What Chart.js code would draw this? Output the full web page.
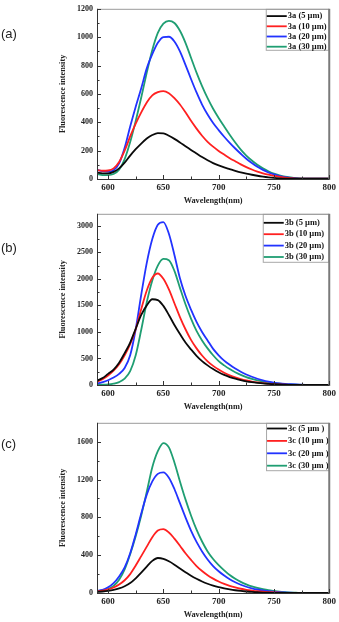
<!DOCTYPE html>
<html>
<head>
<meta charset="utf-8">
<title>Fluorescence spectra</title>
<script src="https://cdn.jsdelivr.net/npm/chart.js@4.4.1/dist/chart.umd.min.js"></script>
<style>
  body { margin: 0; background: #fff; }
  #page { position: relative; width: 339px; height: 622px; overflow: hidden; }
  .panel { position: absolute; left: 0; width: 339px; }
  .tag { position: absolute; left: 1px; font: 13px "Liberation Sans", Arial, sans-serif; color: #222; line-height: 15px; }
</style>
</head>
<body>
<div id="page">
  <div class="panel" style="top:0;height:208px"><canvas id="chartA"></canvas></div>
  <div class="panel" style="top:205px;height:210px"><canvas id="chartB"></canvas></div>
  <div class="panel" style="top:414px;height:208px"><canvas id="chartC"></canvas></div>
  <div class="tag" style="top:26px">(a)</div>
  <div class="tag" style="top:240px">(b)</div>
  <div class="tag" style="top:436px">(c)</div>
</div>
<script>
// emission wavelengths (nm), one reading every 5 nm
const wavelengths = [590, 595, 600, 605, 610, 615, 620, 625, 630, 635,
  640, 645, 650, 655, 660, 665, 670, 675, 680, 685,
  690, 695, 700, 705, 710, 715, 720, 725, 730, 735,
  740, 745, 750, 755, 760, 765, 770, 775, 780, 785,
  790, 795, 800];

const xTicks = [600, 650, 700, 750, 800];
const yTicksA = [0, 200, 400, 600, 800, 1000, 1200];
const yTicksB = [0, 500, 1000, 1500, 2000, 2500, 3000];
const yTicksC = [0, 400, 800, 1200, 1600];

const labelsA = ['3a (5 µm)', '3a (10 µm)', '3a (20 µm)', '3a (30 µm)'];
const labelsB = ['3b (5 µm)', '3b (10 µm)', '3b (20 µm)', '3b (30 µm)'];
const labelsC = ['3c (5 µm )', '3c (10 µm )', '3c (20 µm )', '3c (30 µm )'];

// 3a
const a5 = [45, 40, 40, 50, 75, 115, 165, 210, 250, 285,
  310, 324, 322, 305, 283, 258, 231, 205, 180, 155,
  132, 112, 96, 82, 70, 58, 47, 38, 30, 23,
  17, 12, 8, 5, 3, 2, 2, 2, 2, 2, 2, 2, 2];
const a10 = [62, 58, 60, 75, 120, 200, 300, 390, 470, 540,
  590, 612, 620, 605, 570, 525, 470, 410, 355, 305,
  262, 228, 198, 172, 147, 125, 103, 84, 67, 52,
  40, 30, 22, 15, 10, 6, 3, 2, 2, 2, 2, 2, 2];
const a20 = [65, 55, 52, 62, 110, 220, 370, 510, 640, 780,
  880, 960, 1000, 1003, 970, 900, 805, 705, 610, 525,
  455, 395, 345, 298, 255, 215, 178, 143, 113, 86,
  64, 46, 32, 21, 13, 8, 4, 2, 2, 2, 2, 2, 2];
const a30 = [35, 28, 28, 35, 65, 140, 260, 410, 575, 750,
  910, 1030, 1095, 1115, 1100, 1045, 960, 855, 750, 655,
  570, 495, 430, 370, 312, 257, 207, 165, 130, 100,
  75, 55, 38, 26, 17, 11, 6, 3, 2, 2, 2, 2, 2];

// 3b
const b5 = [80, 130, 210, 290, 420, 600, 800, 1060, 1320, 1500,
  1615, 1600, 1490, 1320, 1130, 960, 800, 670, 550, 450,
  370, 300, 240, 190, 150, 118, 92, 70, 53, 40,
  29, 21, 14, 9, 5, 3, 1, 0, 0, 0, 0, 0, 0];
const b10 = [60, 110, 180, 270, 390, 560, 770, 1050, 1430, 1780,
  2020, 2100, 2000, 1800, 1540, 1280, 1050, 850, 690, 555,
  445, 360, 290, 230, 182, 143, 112, 86, 65, 49,
  36, 26, 18, 12, 7, 4, 2, 1, 0, 0, 0, 0, 0];
const b20 = [25, 55, 90, 140, 210, 320, 560, 1050, 1700, 2300,
  2750, 3020, 3070, 2850, 2450, 2010, 1680, 1420, 1190, 1000,
  840, 680, 560, 460, 380, 310, 250, 198, 155, 118,
  88, 64, 45, 31, 21, 14, 9, 5, 3, 1, 0, 0, 0];
const b30 = [3, 5, 10, 25, 55, 120, 260, 560, 1040, 1560,
  1970, 2250, 2375, 2350, 2150, 1830, 1520, 1250, 1020, 840,
  690, 560, 450, 370, 300, 240, 192, 150, 116, 88,
  66, 48, 35, 25, 17, 11, 7, 4, 2, 1, 0, 0, 0];

// 3c
const c5 = [12, 16, 22, 32, 48, 72, 105, 155, 215, 280,
  340, 370, 362, 335, 300, 260, 220, 182, 150, 122,
  98, 78, 62, 49, 38, 29, 22, 16, 11, 8,
  5, 3, 2, 1, 0, 0, 0, 0, 0, 0, 0, 0, 0];
const c10 = [18, 25, 38, 58, 90, 135, 200, 290, 390, 490,
  590, 660, 675, 640, 575, 500, 420, 350, 285, 232,
  188, 152, 122, 97, 76, 59, 45, 34, 26, 19,
  14, 10, 7, 4, 2, 1, 0, 0, 0, 0, 0, 0, 0];
const c20 = [22, 32, 60, 105, 175, 270, 420, 620, 840, 1040,
  1180, 1260, 1275, 1220, 1100, 950, 800, 660, 540, 440,
  355, 285, 230, 185, 145, 113, 87, 66, 50, 37,
  27, 19, 13, 9, 6, 3, 2, 1, 0, 0, 0, 0, 0];
const c30 = [20, 28, 42, 75, 140, 250, 410, 600, 820, 1070,
  1330, 1500, 1585, 1540, 1380, 1180, 990, 820, 670, 545,
  440, 360, 295, 240, 190, 150, 118, 92, 70, 53,
  40, 29, 21, 14, 9, 5, 3, 1, 0, 0, 0, 0, 0];

const lineColors = ['#0a0a0a', '#ff2020', '#2233ff', '#1f9e72'];
const serifBold = { family: '"Liberation Serif", "Times New Roman", serif', weight: 'bold' };

// white legend box tucked into the top-right corner of the plot
const boxLegend = {
  id: 'boxLegend',
  afterDraw(chart, args, o) {
    const { ctx, chartArea: a } = chart;
    const left = a.right - o.width;
    ctx.save();
    ctx.fillStyle = '#fff';
    ctx.fillRect(left, a.top, o.width, o.height);
    ctx.strokeStyle = '#a8a8a8';
    ctx.lineWidth = 1;
    ctx.strokeRect(left + 0.5, a.top + 0.5, o.width - 1, o.height);
    ctx.font = 'bold 8.5px "Liberation Serif", "Times New Roman", serif';
    ctx.textBaseline = 'middle';
    chart.data.datasets.forEach((ds, i) => {
      const yy = a.top + o.first + i * o.step;
      ctx.strokeStyle = ds.borderColor;
      ctx.lineWidth = 1.8;
      ctx.beginPath();
      ctx.moveTo(left + 1, yy);
      ctx.lineTo(left + 21, yy);
      ctx.stroke();
      ctx.fillStyle = '#111';
      ctx.fillText(ds.label, left + 22, yy);
    });
    ctx.restore();
  }
};

// box frame + inward major/minor ticks on the left and bottom axes
const axisFrame = {
  id: 'axisFrame',
  afterDraw(chart) {
    const { ctx, chartArea: a, scales: { x, y } } = chart;
    ctx.save();
    ctx.strokeStyle = '#9a9a9a';
    ctx.lineWidth = 1;
    ctx.beginPath();
    ctx.moveTo(a.left, a.top + 0.5);
    ctx.lineTo(a.right, a.top + 0.5);
    ctx.stroke();
    ctx.strokeStyle = '#7a7a7a';
    ctx.lineWidth = 2;
    ctx.beginPath();
    ctx.moveTo(a.right, a.top);
    ctx.lineTo(a.right, a.bottom + 1);
    ctx.stroke();

    ctx.strokeStyle = '#333';
    ctx.lineWidth = 1;
    ctx.beginPath();
    ctx.moveTo(a.left + 0.5, a.top);
    ctx.lineTo(a.left + 0.5, a.bottom + 0.5);
    ctx.lineTo(a.right, a.bottom + 0.5);

    const xs = x.ticks.map(t => t.value);
    const ys = y.ticks.map(t => t.value);
    const mark = (vals, scale, horiz) => {
      vals.forEach((v, i) => {
        const marks = [[v, 4]];
        if (i > 0) marks.push([(v + vals[i - 1]) / 2, 2.5]);
        if (i === vals.length - 1 && v + (v - vals[i - 1]) / 2 < scale.max) marks.push([v + (v - vals[i - 1]) / 2, 2.5]);
        marks.forEach(([val, len]) => {
          const p = Math.round(scale.getPixelForValue(val)) + 0.5;
          if (horiz) { ctx.moveTo(p, a.bottom); ctx.lineTo(p, a.bottom - len); }
          else { ctx.moveTo(a.left, p); ctx.lineTo(a.left + len, p); }
        });
      });
    };
    mark(xs, x, true);
    mark(ys, y, false);
    ctx.stroke();
    ctx.restore();
  }
};

function spectrumChart(id, labels, series, yTicks, yMax, pad, legendBox) {
  return new Chart(document.getElementById(id), {
    type: 'line',
    data: {
      datasets: series.map((vals, i) => ({
        label: labels[i],
        data: vals.map((v, j) => ({ x: wavelengths[j], y: v })),
        borderColor: lineColors[i],
        backgroundColor: lineColors[i],
      }))
    },
    options: {
      responsive: true,
      maintainAspectRatio: false,
      animation: false,
      layout: { padding: pad },
      elements: {
        point: { radius: 0 },
        line: { borderWidth: 1.8, cubicInterpolationMode: 'monotone' }
      },
      plugins: {
        legend: { display: false },
        tooltip: { enabled: false },
        boxLegend: legendBox
      },
      scales: {
        x: {
          type: 'linear',
          min: 590,
          max: 800,
          afterBuildTicks: s => { s.ticks = xTicks.map(v => ({ value: v })); },
          afterFit: s => { s.height = 28; },
          grid: { display: false, drawTicks: false },
          border: { display: false },
          ticks: { autoSkip: false, maxRotation: 0, padding: 3, color: '#222', font: { ...serifBold, size: 9 }, callback: v => String(v) },
          title: { display: true, text: 'Wavelength(nm)', color: '#222', padding: { top: 0, bottom: 1 }, font: { ...serifBold, size: 8.3 } }
        },
        y: {
          min: 0,
          max: yMax,
          afterBuildTicks: s => { s.ticks = yTicks.map(v => ({ value: v })); },
          afterFit: s => { s.width = 42; },
          grid: { display: false, drawTicks: false },
          border: { display: false },
          ticks: { autoSkip: false, padding: 4, color: '#222', font: { ...serifBold, size: 8 }, callback: v => String(v) },
          title: { display: true, text: 'Fluorescence intensity', color: '#222', padding: { top: 3, bottom: 0 }, font: { ...serifBold, size: 8.3 } }
        }
      }
    },
    plugins: [boxLegend, axisFrame]
  });
}

spectrumChart('chartA', labelsA, [a5, a10, a20, a30], yTicksA, 1200,
  { left: 55, right: 7.5, top: 5, bottom: 1 },
  { width: 63.5, height: 41, first: 7.3, step: 10.2 });
spectrumChart('chartB', labelsB, [b5, b10, b20, b30], yTicksB, 3225,
  { left: 55, right: 7.5, top: 5, bottom: 2 },
  { width: 66.5, height: 48, first: 9, step: 11.4 });
spectrumChart('chartC', labelsC, [c5, c10, c20, c30], yTicksC, 1800,
  { left: 55, right: 7.5, top: 5.3, bottom: 1 },
  { width: 63.2, height: 47.4, first: 5.7, step: 12.4 });
</script>
</body>
</html>
